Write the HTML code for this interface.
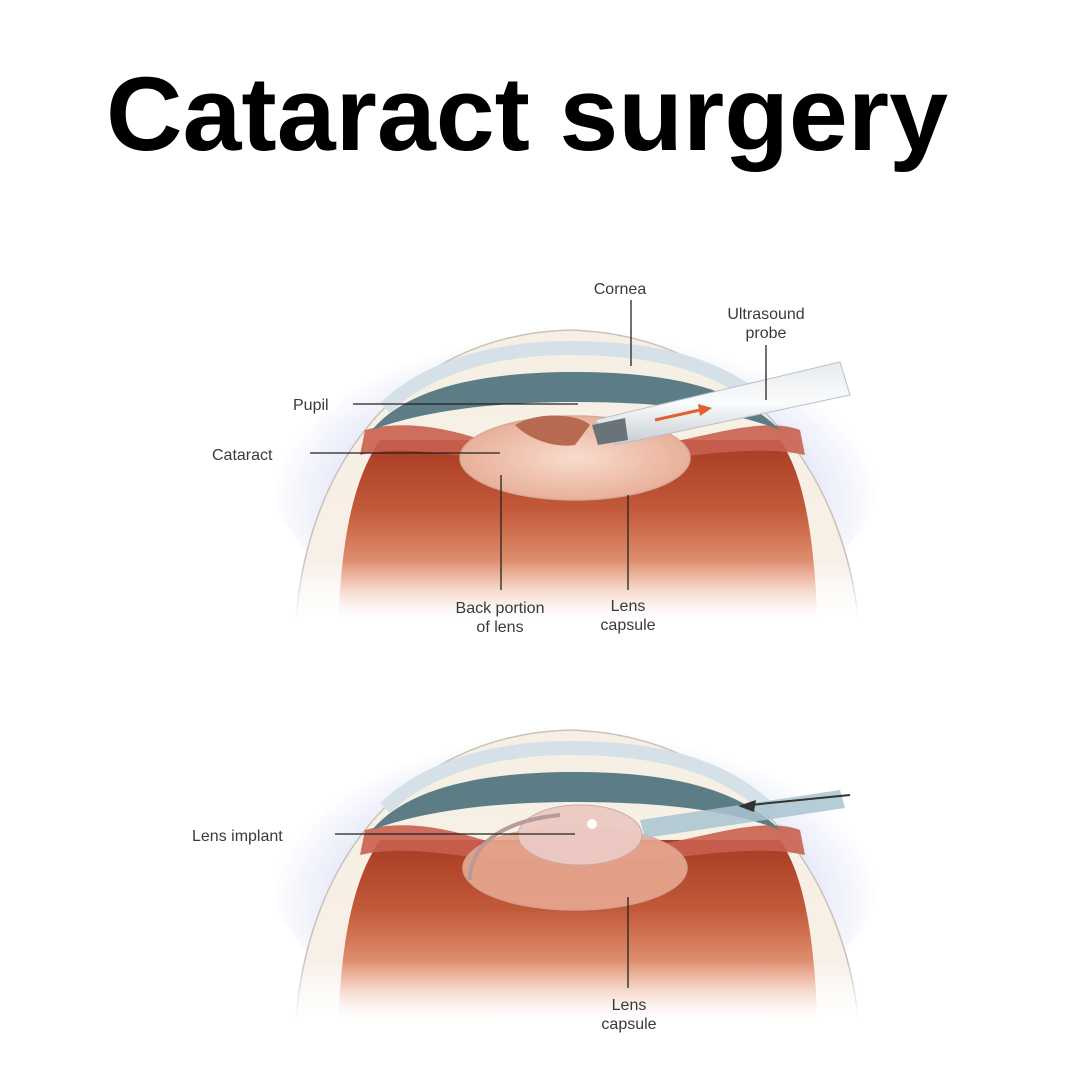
<!DOCTYPE html>
<html><head><meta charset="utf-8"><style>
html,body{margin:0;padding:0;background:#fff;width:1080px;height:1080px;overflow:hidden}
svg{display:block}
.t{font-family:"Liberation Sans",Arial,sans-serif;font-size:16px;fill:#3a3a3a}
</style></head><body>
<svg width="1080" height="1080" viewBox="0 0 1080 1080" xmlns="http://www.w3.org/2000/svg">
<defs>
<clipPath id="ec"><rect x="200" y="280" width="720" height="365"/></clipPath>
<radialGradient id="glow" cx="0.5" cy="0.6" r="0.5">
<stop offset="0.55" stop-color="#cdd2f2"/><stop offset="1" stop-color="#ffffff"/></radialGradient>
<linearGradient id="red" x1="0" y1="0" x2="0" y2="1">
<stop offset="0" stop-color="#a83a22"/><stop offset="0.35" stop-color="#c25a3a"/><stop offset="0.7" stop-color="#e8a082"/><stop offset="1" stop-color="#ffffff"/></linearGradient>
<linearGradient id="scl" x1="0" y1="0" x2="0" y2="1">
<stop offset="0" stop-color="#f6f0e4"/><stop offset="0.75" stop-color="#f8efe6"/><stop offset="1" stop-color="#ffffff"/></linearGradient>
<linearGradient id="fade" x1="0" y1="0" x2="0" y2="1">
<stop offset="0" stop-color="#fff" stop-opacity="0"/><stop offset="0.7" stop-color="#fff"/><stop offset="1" stop-color="#fff"/></linearGradient>
<radialGradient id="lens" cx="0.5" cy="0.5" r="0.5">
<stop offset="0" stop-color="#f8dccc"/><stop offset="1" stop-color="#e8b09a"/></radialGradient>
<linearGradient id="probe" x1="0" y1="0" x2="0" y2="1">
<stop offset="0" stop-color="#e8ecef"/><stop offset="0.5" stop-color="#fafbfc"/><stop offset="1" stop-color="#c4ccd2"/></linearGradient>
<g id="eye">
<g clip-path="url(#ec)">
<ellipse cx="575" cy="470" rx="305" ry="170" fill="url(#glow)"/>
<path d="M295 640 C300 470 400 335 570 330 C740 335 850 470 860 640 Z" fill="url(#scl)"/>
<path d="M295 640 C300 470 400 335 570 330 C740 335 850 470 860 640" fill="none" stroke="#c8c2b8" stroke-width="1.5"/>
<path d="M338 640 C340 520 360 470 380 440 L780 440 C800 470 815 520 818 640 Z" fill="url(#red)"/>
<path d="M365 430 C420 415 480 440 500 445 L650 445 C700 440 760 415 800 430 L805 455 C760 445 700 455 650 460 L500 460 C450 455 400 445 360 455 Z" fill="#c9604f" opacity="0.9"/>
<path d="M385 408 C430 365 500 348 570 348 C650 348 720 362 770 410" fill="none" stroke="#d6e0e9" stroke-width="14"/>
<path d="M372 430 C410 385 490 372 575 372 C660 372 735 385 780 430 C730 410 660 402 575 402 C490 402 420 412 372 430 Z" fill="#5d7d86"/>
<rect x="250" y="560" width="660" height="85" fill="url(#fade)"/>
</g>
</g>
</defs>

<text x="106" y="150" font-family="Liberation Sans,Arial,sans-serif" font-weight="bold" font-size="105" fill="#000" textLength="842" lengthAdjust="spacingAndGlyphs">Cataract surgery</text>

<!-- top eye -->
<use href="#eye"/>
<ellipse cx="575" cy="458" rx="115" ry="42" fill="url(#lens)" stroke="#d8a898" stroke-width="1.5"/>
<path d="M515 425 C540 410 580 415 590 425 L575 445 C555 448 530 440 515 425 Z" fill="#b86a50"/>
<polygon points="595,420 840,362 850,395 615,445" fill="url(#probe)" stroke="#b8c0c6"/>
<polygon points="592,425 625,418 628,440 598,445" fill="#6a7378"/>
<path d="M655 420 L700 410" stroke="#e06030" stroke-width="3"/>
<polygon points="698,404 712,408 700,416" fill="#e06030"/>

<!-- bottom eye -->
<g transform="translate(0,400)"><use href="#eye"/></g>
<ellipse cx="575" cy="868" rx="112" ry="42" fill="#e8a890" stroke="#d8a898" stroke-width="1.5" opacity="0.9"/>
<ellipse cx="580" cy="835" rx="62" ry="30" fill="#eccac4" stroke="#c8a8a0" opacity="0.95"/>
<circle cx="592" cy="824" r="5" fill="#fff"/>
<path d="M470 880 C470 840 510 820 560 815" fill="none" stroke="#b89a9a" stroke-width="4"/>
<polygon points="640,820 840,790 845,808 645,838" fill="#a8c4d0" opacity="0.85"/>
<path d="M850 795 L740 806" stroke="#333" stroke-width="2"/>
<polygon points="738,806 756,800 754,812" fill="#333"/>

<!-- labels -->
<g stroke="#222" stroke-width="1.3">
<line x1="631" y1="300" x2="631" y2="366"/>
<line x1="766" y1="345" x2="766" y2="400"/>
<line x1="353" y1="404" x2="578" y2="404"/>
<line x1="310" y1="453" x2="500" y2="453"/>
<line x1="501" y1="475" x2="501" y2="590"/>
<line x1="628" y1="495" x2="628" y2="590"/>
<line x1="335" y1="834" x2="575" y2="834"/>
<line x1="628" y1="897" x2="628" y2="988"/>
</g>
<text class="t" x="620" y="294" text-anchor="middle">Cornea</text>
<text class="t" x="766" y="319" text-anchor="middle">Ultrasound</text>
<text class="t" x="766" y="338" text-anchor="middle">probe</text>
<text class="t" x="293" y="410">Pupil</text>
<text class="t" x="212" y="460">Cataract</text>
<text class="t" x="500" y="613" text-anchor="middle">Back portion</text>
<text class="t" x="500" y="632" text-anchor="middle">of lens</text>
<text class="t" x="628" y="611" text-anchor="middle">Lens</text>
<text class="t" x="628" y="630" text-anchor="middle">capsule</text>
<text class="t" x="192" y="841">Lens implant</text>
<text class="t" x="629" y="1010" text-anchor="middle">Lens</text>
<text class="t" x="629" y="1029" text-anchor="middle">capsule</text>
</svg>
</body></html>
